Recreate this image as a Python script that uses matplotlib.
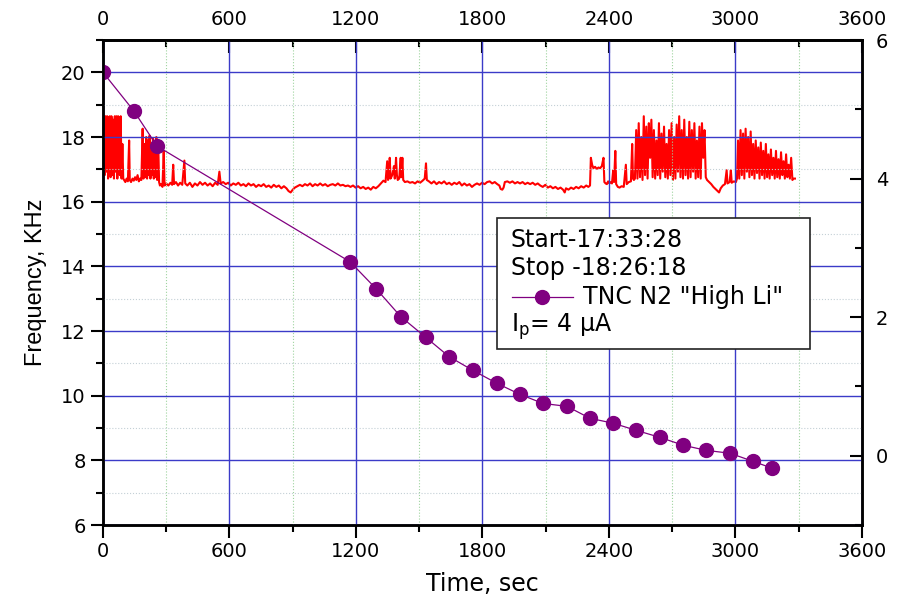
import matplotlib
matplotlib.use("Agg")
import matplotlib.pyplot as plt
from matplotlib.patches import Rectangle
from matplotlib.lines import Line2D
from matplotlib.ticker import FixedLocator

plt.rcParams['font.family'] = ['DejaVu Sans']
plt.rcParams['mathtext.fontset'] = 'dejavusans'

# purple series: frequency (left axis)
tnc_time = [0, 147, 256, 1172, 1295, 1413, 1532, 1641, 1755, 1869, 1978, 2087,
            2201, 2310, 2419, 2528, 2642, 2751, 2860, 2974, 3083, 3173]
tnc_freq = [20.0, 18.8, 17.72, 14.14, 13.31, 12.44, 11.80, 11.21, 10.78, 10.38,
            10.04, 9.76, 9.67, 9.30, 9.15, 8.93, 8.71, 8.47, 8.31, 8.22, 7.97, 7.76]

# red series: right axis signal
red_time = [
    0, 4, 8, 12, 16, 20, 24, 28, 32, 36, 40, 44, 48, 52, 56, 60, 64, 68, 72, 76,
    80, 84, 88, 92, 96,
    100, 106, 112, 118, 124, 127, 133, 140, 146, 152, 158, 164, 170, 176, 182,
    188, 192, 197, 201, 205, 209, 213, 217, 221, 225, 229, 233, 237, 241, 245,
    249, 253, 257, 262, 266, 270, 276, 282, 288, 292, 300, 310, 320, 328, 333,
    337, 346, 356, 366, 376, 386, 390, 400, 412, 424, 436, 448, 460, 472, 484,
    496, 508, 520, 532, 544, 552, 558, 570, 582, 594, 606, 618, 630, 642, 654,
    666, 678, 690, 702, 714, 726, 738, 750, 762, 774, 786, 798, 810, 822, 834,
    846, 858, 870, 880, 890, 900, 910, 922, 934, 946, 958, 970, 982, 994, 1006,
    1018, 1030, 1042, 1054, 1066, 1078, 1090, 1102, 1114, 1126, 1138, 1150,
    1162, 1174, 1186, 1198, 1210, 1222, 1234, 1246, 1258, 1270, 1282, 1294,
    1306, 1318, 1330, 1340, 1348, 1352, 1356, 1360, 1364, 1372, 1380, 1384,
    1390, 1394, 1398, 1405, 1412, 1415, 1420, 1424, 1432, 1444, 1456, 1468,
    1480, 1492, 1504, 1516, 1526, 1532, 1536, 1546, 1558, 1570, 1582, 1594,
    1606, 1618, 1630, 1642, 1654, 1666, 1678, 1690, 1702, 1714, 1726, 1738,
    1750, 1762, 1774, 1786, 1798, 1810, 1822, 1834, 1846, 1858, 1870, 1880,
    1886, 1894, 1900, 1906, 1918, 1930, 1942, 1954, 1966, 1978, 1990, 2002,
    2014, 2026, 2038, 2050, 2062, 2074, 2086, 2098, 2110, 2122, 2134, 2146,
    2158, 2170, 2182, 2190, 2196, 2208, 2220, 2232, 2244, 2256, 2268, 2280,
    2292, 2302, 2310, 2314, 2320, 2326, 2334, 2342, 2350, 2358, 2366, 2374,
    2378, 2384, 2390, 2396, 2402, 2408, 2414, 2420, 2424, 2430, 2434, 2442,
    2450, 2460, 2470, 2480, 2484, 2494, 2504, 2510, 2514, 2518, 2523,
    2529, 2535, 2541, 2547, 2553, 2559, 2565, 2571, 2577, 2583, 2589, 2595,
    2601, 2607, 2613, 2619, 2625, 2631, 2637, 2643, 2649, 2655, 2661, 2667,
    2673, 2679, 2685, 2691, 2697, 2703, 2709, 2715, 2721, 2727, 2733, 2739,
    2745, 2751, 2757, 2763, 2769, 2775, 2781, 2787, 2793, 2799, 2805, 2811,
    2817, 2823, 2829, 2835, 2841, 2847, 2853, 2859, 2865,
    2875, 2885, 2895, 2905, 2915, 2922, 2930, 2940, 2950, 2958, 2962, 2972,
    2978, 2982, 2992, 3002, 3007,
    3012, 3018, 3024, 3030, 3036, 3042, 3048, 3054, 3060, 3066, 3072, 3078,
    3084, 3090, 3096, 3102, 3108, 3114, 3120, 3126, 3132, 3138, 3144, 3150,
    3156, 3162, 3168, 3174, 3180, 3186, 3192, 3198, 3204, 3210, 3216, 3222,
    3228, 3234, 3240, 3246, 3252, 3258, 3264, 3270, 3276, 3282,
]
red_level = [
    4.3, 4.9, 4.05, 4.9, 4.1, 4.9, 4.0, 4.88, 4.9, 4.02, 4.9, 4.05, 4.85, 4.0,
    4.9, 4.1, 4.9, 4.0, 4.9, 4.85, 4.05, 4.9, 4.0, 4.5, 4.0,
    3.98, 3.95, 4.0, 3.96, 4.55, 3.98, 3.95, 4.0, 3.97, 4.02, 3.98, 4.05, 3.96,
    4.0, 3.98, 4.72, 4.0, 4.5, 4.02, 4.6, 4.0, 4.55, 4.05, 4.62, 4.0, 4.48,
    4.05, 4.58, 4.0, 4.52, 4.02, 4.6, 3.98, 4.5, 3.95, 3.9, 3.92, 3.88, 4.4,
    3.9, 3.93, 3.9, 3.94, 3.91, 4.2, 3.92, 3.95, 3.9, 3.94, 3.91, 4.26, 3.93,
    3.9, 3.94, 3.88, 3.93, 3.9, 3.95, 3.91, 3.94, 3.9, 3.93, 3.89, 3.94, 3.91,
    4.1, 3.93, 3.95, 3.92, 3.94, 3.9, 3.93, 3.91, 3.94, 3.9, 3.92, 3.89, 3.93,
    3.9, 3.92, 3.88, 3.91, 3.89, 3.92, 3.88, 3.9, 3.87, 3.91, 3.88, 3.9, 3.86,
    3.89, 3.86, 3.82, 3.8, 3.84, 3.87, 3.89, 3.91, 3.89, 3.92, 3.9, 3.93, 3.89,
    3.92, 3.9, 3.93, 3.9, 3.92, 3.89, 3.91, 3.92, 3.9, 3.93, 3.9, 3.91, 3.89,
    3.9, 3.88, 3.9, 3.87, 3.89, 3.86, 3.88, 3.85, 3.87, 3.84, 3.88, 3.86, 3.89,
    3.93, 3.97, 3.95, 4.25, 3.98, 4.02, 4.3, 4.0, 4.05, 4.18, 4.0, 4.3, 4.05,
    3.98, 4.0, 4.3, 4.02, 4.3, 3.98, 3.95, 3.96, 3.94, 3.95, 3.93, 3.96, 3.94,
    3.97, 4.0, 4.22, 3.98, 3.96, 3.93, 3.96, 3.92, 3.95, 3.93, 3.96, 3.92,
    3.94, 3.91, 3.94, 3.92, 3.95, 3.9, 3.93, 3.9, 3.92, 3.88, 3.91, 3.93, 3.91,
    3.94, 3.92, 3.95, 3.96, 3.93, 3.95, 3.92, 3.9, 3.85, 3.84, 3.87, 3.95,
    3.96, 3.94, 3.96, 3.93, 3.95, 3.93, 3.95, 3.92, 3.94, 3.92, 3.94, 3.91,
    3.93, 3.9, 3.88, 3.91, 3.87, 3.89, 3.86, 3.88, 3.85, 3.87, 3.84, 3.8, 3.86,
    3.84, 3.87, 3.85, 3.88, 3.86, 3.89, 3.87, 3.9, 3.88, 3.9, 4.3, 4.2, 4.15,
    4.17, 4.14, 4.16, 4.15, 4.18, 4.3, 3.95, 3.93, 3.92, 3.96, 3.93, 3.95,
    3.93, 4.12, 3.95, 4.4, 3.92, 3.88, 3.87, 3.89, 3.88, 4.2, 3.92, 3.95, 3.96,
    4.5, 4.0, 3.98, 4.0,
    4.7, 4.0, 4.8, 4.02, 4.6, 3.98, 4.9, 4.05, 4.75, 4.0, 4.8, 4.3, 4.85, 4.02,
    4.7, 4.0, 4.55, 4.05, 4.8, 4.0, 4.65, 4.1, 4.75, 4.02, 4.5, 4.0, 4.7, 4.05,
    4.8, 3.98, 4.6, 4.0, 4.78, 4.1, 4.9, 4.02, 4.7, 4.0, 4.85, 4.05, 4.6, 4.0,
    4.82, 4.02, 4.7, 4.1, 4.8, 4.0, 4.55, 4.02, 4.75, 4.0, 4.8, 4.3, 4.7, 4.02,
    3.98,
    3.95, 3.92, 3.88, 3.85, 3.82, 3.8, 3.86, 3.9, 3.92, 4.12, 3.93, 3.95, 4.12,
    3.94, 3.96, 3.95, 4.0,
    4.55, 4.0, 4.7, 4.05, 4.65, 4.0, 4.72, 4.1, 4.6, 4.02, 4.68, 4.05, 4.5, 4.0,
    4.55, 4.08, 4.45, 4.0, 4.52, 4.05, 4.4, 4.0, 4.5, 4.02, 4.35, 4.0, 4.42,
    4.05, 4.3, 4.0, 4.4, 4.02, 4.28, 4.0, 4.38, 4.05, 4.25, 4.0, 4.35, 4.02,
    4.2, 4.0, 4.3, 3.98, 4.0, 4.0,
]

time_ticks = [0, 600, 1200, 1800, 2400, 3000, 3600]
time_minor = [300, 900, 1500, 2100, 2700, 3300]

purple = '#800080'
blue = '#3b3bc8'

fig = plt.figure(figsize=(8.98, 5.99), dpi=100)
ax = fig.add_axes([0.1147, 0.1235, 0.8452, 0.8097])
ax2 = ax.twinx()

ax2.plot(red_time, red_level, color='#ff0000', lw=1.5)
ax2.set_ylim(-1, 6)
ax2.yaxis.set_major_locator(FixedLocator([0, 2, 4, 6]))
ax2.yaxis.set_minor_locator(FixedLocator([-1, 1, 3, 5]))
ax2.tick_params(axis='y', which='major', direction='in', length=9, width=1.5,
                labelsize=14, pad=10)
ax2.tick_params(axis='y', which='minor', direction='in', length=5, width=1.5)

ax.set_zorder(ax2.get_zorder() + 1)
ax.patch.set_visible(False)

ax.plot(tnc_time, tnc_freq, color=purple, lw=0.9, marker='o', ms=10,
        markeredgecolor=purple, markerfacecolor=purple)
ax.set_xlim(0, 3600)
ax.set_ylim(6, 21)
ax.xaxis.set_major_locator(FixedLocator(time_ticks))
ax.xaxis.set_minor_locator(FixedLocator(time_minor))
ax.yaxis.set_major_locator(FixedLocator([6, 8, 10, 12, 14, 16, 18, 20]))
ax.yaxis.set_minor_locator(FixedLocator([7, 9, 11, 13, 15, 17, 19, 21]))
ax.tick_params(which='major', direction='out', length=9, width=1.5, labelsize=14)
ax.tick_params(which='minor', direction='out', length=5, width=1.5)

ax.grid(which='major', color=blue, lw=1.0, ls='-')
ax.grid(which='minor', axis='x', color='#9fd49f', lw=0.8, ls=':')
ax.grid(which='minor', axis='y', color='#c4d0d6', lw=0.8, ls=':')

top = ax.secondary_xaxis('top')
top.xaxis.set_major_locator(FixedLocator(time_ticks))
top.xaxis.set_minor_locator(FixedLocator(time_minor))
top.tick_params(which='major', direction='in', length=9, width=1.5, labelsize=14,
                pad=8)
top.tick_params(which='minor', direction='in', length=5, width=1.5)

for a in (ax, ax2):
    for s in a.spines.values():
        s.set_linewidth(1.8)
top.spines['top'].set_linewidth(1.8)

ax.set_xlabel('Time, sec', fontsize=17, labelpad=8)
ax.set_ylabel('Frequency, KHz', fontsize=17, labelpad=10, family='Liberation Sans')

# info box
box = Rectangle((0.519, 0.363), 0.4125, 0.270, transform=ax.transAxes,
                facecolor='white', edgecolor='#222222', lw=1.2, zorder=10)
ax.add_patch(box)
tx = 0.537
ax.text(tx, 0.588, 'Start-17:33:28', transform=ax.transAxes, fontsize=17,
        va='center', ha='left', zorder=11)
ax.text(tx, 0.530, 'Stop -18:26:18', transform=ax.transAxes, fontsize=17,
        va='center', ha='left', zorder=11)
ax.add_line(Line2D([0.539, 0.619], [0.470, 0.470], transform=ax.transAxes,
                   color=purple, lw=0.9, zorder=11))
ax.add_line(Line2D([0.578], [0.470], transform=ax.transAxes, marker='o', ms=10,
                   color=purple, zorder=12))
ax.text(0.632, 0.470, 'TNC N2 "High Li"', transform=ax.transAxes, fontsize=17,
        va='center', ha='left', zorder=11)
ax.text(tx, 0.408, r'I$_\mathregular{p}$= 4 $\mathregular{\mu}$A',
        transform=ax.transAxes, fontsize=17, va='center', ha='left', zorder=11)

fig.savefig('out.png', dpi=100)
